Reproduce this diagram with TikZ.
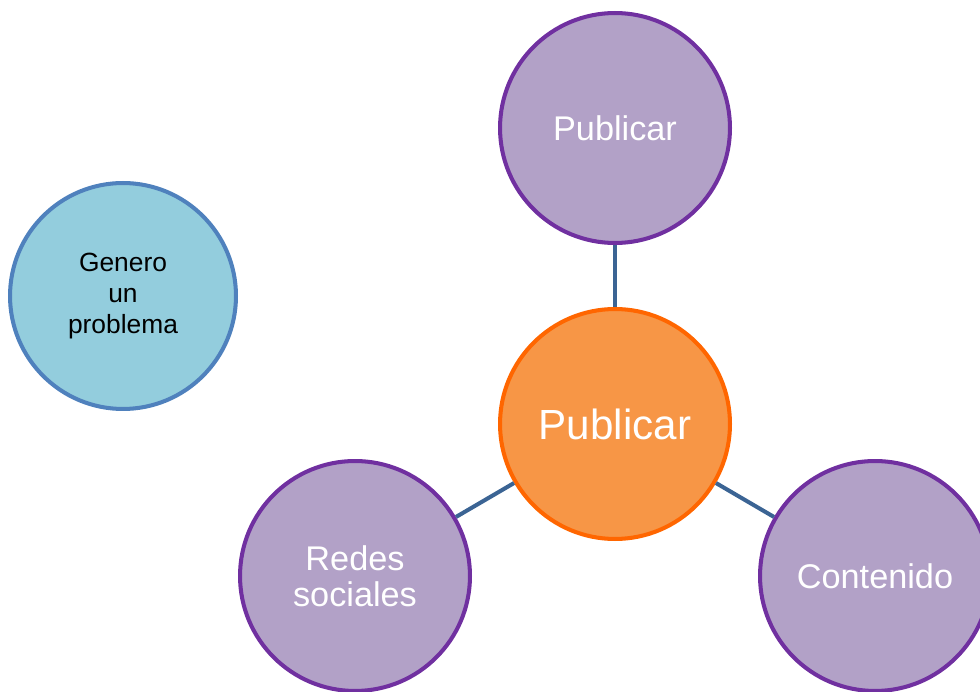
\documentclass[tikz,border=0pt]{standalone}
\usepackage{fontspec}
\setmainfont{Liberation Sans}
\usetikzlibrary{positioning}

\definecolor{lilac}{HTML}{B2A1C7}
\definecolor{plum}{HTML}{7030A0}
\definecolor{apricot}{HTML}{F79646}
\definecolor{tangerine}{HTML}{FF6600}
\definecolor{skyfill}{HTML}{93CDDD}
\definecolor{skyline}{HTML}{4F81BD}
\definecolor{linkblue}{HTML}{3B6494}

\begin{document}
\begin{tikzpicture}[x=0.02cm, y=-0.02cm,
    bubble/.style={circle, line width=2.3pt, minimum size=4.6cm, inner sep=0pt, align=center},
    outer/.style={bubble, draw=plum, fill=lilac, text=white, font=\fontsize{19.5}{20.5}\selectfont},
    hub/.style={bubble, draw=tangerine, fill=apricot, text=white, font=\fontsize{24}{26}\selectfont},
    aside/.style={bubble, minimum size=4.52cm, draw=skyline, fill=skyfill, text=black, font=\fontsize{15}{17.6}\selectfont},
    link/.style={draw=linkblue, line width=2.3pt}]
    % Page frame
    \useasboundingbox (0, 0) rectangle (980, 692);
    \clip (0, 0) rectangle (980, 692);

    % Central node
    \node[hub] (hub) at (615, 424) {Publicar};

    % Outer nodes
    \node[outer] (pub) at (615, 128) {Publicar};
    \node[outer, font=\fontsize{19.5}{20.4}\selectfont] (redes) at (355, 576) {Redes\\sociales};
    \node[outer] (cont) at (875, 576) {Contenido};

    % Separate node
    \node[aside] (gen) at (123, 296) {Genero\\un\\problema};

    % Links
    \draw[link] (hub) -- (pub);
    \draw[link] (hub) -- (redes);
    \draw[link] (hub) -- (cont);
\end{tikzpicture}
\end{document}
